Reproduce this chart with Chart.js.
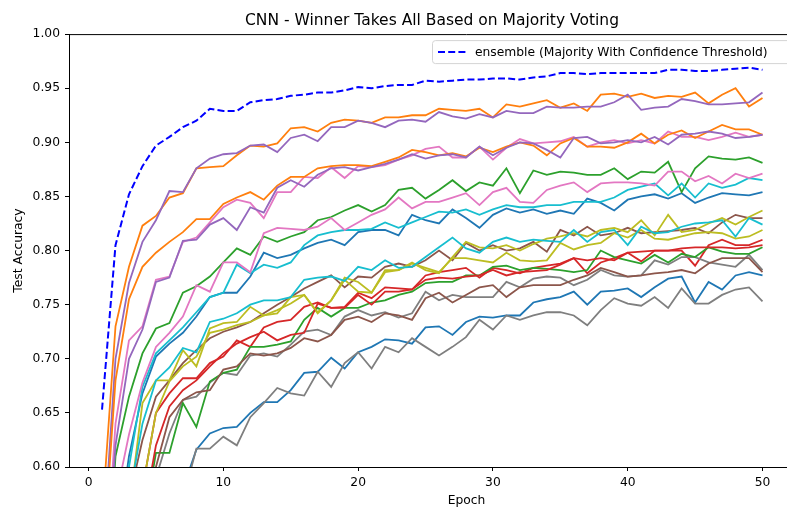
<!DOCTYPE html>
<html>
<head>
<meta charset="utf-8">
<script src="https://cdn.jsdelivr.net/npm/chart.js@4/dist/chart.umd.min.js"></script>
<style>
  html, body { margin: 0; padding: 0; background: #fff; overflow: hidden; }
  #wrap { width: 787px; height: 509px; overflow: hidden; }
</style>
</head>
<body>
<div id="wrap"><canvas id="accChart" width="864" height="509"></canvas></div>
<script>
// epochs and tick labels
const epochs = [1,2,3,4,5,6,7,8,9,10,11,12,13,14,15,16,17,18,19,20,21,22,23,24,25,
  26,27,28,29,30,31,32,33,34,35,36,37,38,39,40,41,42,43,44,45,46,47,48,49,50];
const xTicks = [0, 10, 20, 30, 40, 50];
const yTicks = [0.60, 0.65, 0.70, 0.75, 0.80, 0.85, 0.90, 0.95, 1.00];

const ensembleLabel = 'ensemble (Majority With Confidence Threshold)';
const ensemble = [0.653,0.805,0.852,0.878,0.897,0.905,0.914,0.920,0.931,0.929,
  0.929,0.937,0.939,0.940,0.943,0.944,0.946,0.946,0.948,0.951,
  0.950,0.952,0.953,0.953,0.957,0.956,0.957,0.958,0.958,0.959,
  0.959,0.958,0.960,0.961,0.964,0.964,0.963,0.964,0.964,0.964,
  0.964,0.964,0.967,0.967,0.966,0.966,0.967,0.968,0.969,0.967];

// individual CNN runs
const model1 = [0.36,0.52,0.61,0.668,0.702,0.714,0.724,0.739,0.757,0.761,
  0.761,0.776,0.798,0.793,0.796,0.802,0.807,0.810,0.805,0.817,
  0.819,0.819,0.814,0.833,0.828,0.825,0.838,0.830,0.821,0.833,
  0.839,0.835,0.838,0.834,0.837,0.834,0.848,0.844,0.837,0.847,
  0.850,0.852,0.848,0.853,0.844,0.849,0.853,0.852,0.851,0.854];
const model2 = [0.553,0.73,0.785,0.823,0.832,0.849,0.853,0.876,0.877,0.878,
  0.888,0.897,0.896,0.899,0.913,0.914,0.910,0.918,0.921,0.920,
  0.918,0.923,0.923,0.925,0.925,0.931,0.930,0.929,0.931,0.923,
  0.935,0.933,0.936,0.939,0.932,0.936,0.929,0.944,0.945,0.942,
  0.945,0.941,0.943,0.942,0.946,0.936,0.944,0.950,0.933,0.941];
const model3 = [0.42,0.61,0.665,0.705,0.728,0.733,0.761,0.767,0.776,0.789,
  0.802,0.796,0.813,0.808,0.813,0.817,0.828,0.831,0.837,0.842,
  0.836,0.842,0.856,0.858,0.848,0.856,0.865,0.855,0.863,0.860,
  0.876,0.853,0.874,0.870,0.873,0.872,0.870,0.870,0.876,0.866,
  0.873,0.872,0.882,0.854,0.876,0.887,0.885,0.884,0.886,0.881];
const model4 = [0.30,0.42,0.51,0.58,0.650,0.668,0.682,0.682,0.696,0.702,
  0.717,0.711,0.729,0.734,0.736,0.748,0.752,0.747,0.748,0.761,
  0.756,0.766,0.765,0.764,0.777,0.780,0.782,0.784,0.775,0.784,
  0.782,0.779,0.784,0.786,0.788,0.793,0.779,0.789,0.793,0.798,
  0.790,0.800,0.800,0.800,0.786,0.805,0.810,0.805,0.805,0.810];
const model5 = [0.51,0.70,0.77,0.808,0.828,0.855,0.854,0.876,0.885,0.889,
  0.890,0.897,0.898,0.891,0.904,0.907,0.901,0.914,0.914,0.920,
  0.918,0.914,0.920,0.921,0.919,0.928,0.924,0.922,0.926,0.923,
  0.929,0.927,0.927,0.933,0.932,0.932,0.933,0.933,0.937,0.944,
  0.930,0.932,0.933,0.940,0.938,0.935,0.935,0.936,0.937,0.946];
const model6 = [0.35,0.48,0.57,0.625,0.665,0.680,0.696,0.708,0.719,0.725,
  0.729,0.734,0.742,0.750,0.757,0.765,0.771,0.777,0.766,0.776,
  0.775,0.785,0.788,0.785,0.791,0.800,0.791,0.807,0.800,0.805,
  0.800,0.802,0.808,0.799,0.819,0.814,0.822,0.814,0.816,0.821,
  0.816,0.817,0.818,0.819,0.821,0.816,0.826,0.833,0.830,0.830];
const model7 = [0.45,0.64,0.717,0.73,0.773,0.776,0.808,0.812,0.826,0.840,
  0.847,0.844,0.830,0.854,0.854,0.868,0.867,0.877,0.867,0.878,
  0.877,0.879,0.884,0.888,0.894,0.896,0.886,0.886,0.896,0.884,
  0.895,0.903,0.899,0.900,0.901,0.905,0.896,0.900,0.902,0.899,
  0.902,0.899,0.910,0.905,0.905,0.902,0.905,0.909,0.905,0.907];
const model8 = [0.22,0.34,0.43,0.52,0.59,0.631,0.662,0.665,0.678,0.687,
  0.685,0.703,0.705,0.702,0.713,0.725,0.727,0.722,0.739,0.745,
  0.740,0.743,0.738,0.742,0.762,0.754,0.759,0.757,0.757,0.757,
  0.771,0.766,0.774,0.776,0.775,0.768,0.773,0.782,0.777,0.776,
  0.777,0.791,0.787,0.794,0.794,0.789,0.787,0.785,0.796,0.782];
const model9 = [0.32,0.45,0.56,0.659,0.680,0.680,0.708,0.693,0.728,0.733,
  0.734,0.748,0.740,0.745,0.751,0.759,0.742,0.754,0.775,0.771,
  0.761,0.782,0.782,0.789,0.782,0.779,0.794,0.808,0.803,0.802,
  0.805,0.800,0.806,0.811,0.813,0.816,0.813,0.819,0.821,0.817,
  0.828,0.814,0.833,0.817,0.819,0.825,0.830,0.824,0.831,0.837];
const model10 = [0.35,0.50,0.60,0.674,0.705,0.717,0.729,0.743,0.757,0.761,
  0.787,0.779,0.787,0.784,0.789,0.805,0.814,0.817,0.819,0.819,
  0.820,0.826,0.821,0.826,0.831,0.836,0.835,0.838,0.833,0.838,
  0.842,0.840,0.840,0.842,0.842,0.845,0.845,0.845,0.849,0.856,
  0.859,0.862,0.851,0.862,0.849,0.862,0.858,0.861,0.867,0.865];
const model11 = [0.20,0.30,0.38,0.45,0.50,0.54,0.58,0.616,0.631,0.636,
  0.637,0.650,0.660,0.660,0.671,0.687,0.688,0.701,0.691,0.706,
  0.711,0.718,0.717,0.714,0.729,0.730,0.722,0.734,0.739,0.738,
  0.740,0.740,0.752,0.755,0.757,0.762,0.750,0.762,0.763,0.765,
  0.757,0.766,0.774,0.776,0.752,0.771,0.764,0.777,0.780,0.777];
const model12 = [0.50,0.68,0.755,0.785,0.798,0.808,0.817,0.829,0.829,0.843,
  0.849,0.854,0.847,0.860,0.868,0.868,0.876,0.878,0.879,0.879,
  0.878,0.882,0.886,0.893,0.891,0.888,0.890,0.887,0.895,0.891,
  0.896,0.900,0.897,0.888,0.899,0.904,0.896,0.896,0.895,0.900,
  0.908,0.899,0.907,0.911,0.904,0.910,0.916,0.912,0.912,0.907];
const model13 = [0.25,0.37,0.46,0.54,0.613,0.613,0.659,0.637,0.679,0.687,
  0.690,0.711,0.711,0.713,0.716,0.736,0.747,0.739,0.747,0.747,
  0.752,0.754,0.759,0.762,0.770,0.771,0.771,0.777,0.777,0.785,
  0.786,0.782,0.784,0.783,0.782,0.780,0.782,0.800,0.794,0.791,
  0.788,0.796,0.789,0.797,0.794,0.803,0.799,0.797,0.797,0.803];
const model14 = [0.28,0.40,0.48,0.55,0.62,0.656,0.671,0.680,0.693,0.705,
  0.714,0.720,0.725,0.717,0.722,0.724,0.751,0.747,0.747,0.759,
  0.750,0.762,0.762,0.764,0.773,0.775,0.774,0.776,0.777,0.782,
  0.777,0.780,0.781,0.782,0.787,0.793,0.791,0.793,0.791,0.798,
  0.799,0.800,0.800,0.802,0.803,0.803,0.803,0.802,0.803,0.805];
const model15 = [0.44,0.62,0.70,0.727,0.771,0.775,0.809,0.810,0.824,0.830,
  0.819,0.840,0.835,0.858,0.865,0.859,0.870,0.876,0.877,0.874,
  0.877,0.880,0.884,0.889,0.885,0.888,0.889,0.886,0.896,0.888,
  0.895,0.900,0.899,0.893,0.886,0.904,0.905,0.899,0.900,0.902,
  0.900,0.905,0.898,0.907,0.908,0.910,0.908,0.904,0.905,0.907];
const model16 = [0.24,0.36,0.45,0.54,0.60,0.646,0.662,0.669,0.671,0.690,
  0.693,0.705,0.703,0.705,0.710,0.719,0.716,0.722,0.736,0.739,
  0.734,0.742,0.740,0.736,0.756,0.761,0.752,0.759,0.766,0.768,
  0.757,0.766,0.768,0.768,0.768,0.773,0.777,0.784,0.780,0.776,
  0.777,0.779,0.780,0.782,0.779,0.788,0.793,0.793,0.793,0.780];
const model17 = [0.40,0.57,0.63,0.678,0.711,0.724,0.739,0.768,0.762,0.789,
  0.789,0.780,0.816,0.821,0.820,0.819,0.822,0.830,0.819,0.826,
  0.833,0.838,0.849,0.839,0.845,0.845,0.849,0.853,0.842,0.854,
  0.858,0.845,0.844,0.856,0.860,0.863,0.854,0.862,0.863,0.863,
  0.862,0.860,0.873,0.873,0.864,0.869,0.862,0.871,0.867,0.871];
const model18 = [0.18,0.28,0.36,0.43,0.49,0.53,0.57,0.617,0.617,0.628,
  0.620,0.646,0.659,0.673,0.668,0.666,0.688,0.674,0.696,0.706,
  0.691,0.711,0.706,0.719,0.711,0.703,0.711,0.720,0.736,0.727,
  0.740,0.736,0.740,0.743,0.743,0.740,0.731,0.745,0.756,0.751,
  0.749,0.757,0.747,0.765,0.751,0.751,0.759,0.764,0.766,0.753];
const model19 = [0.28,0.40,0.50,0.58,0.650,0.679,0.693,0.702,0.724,0.727,
  0.731,0.734,0.740,0.742,0.757,0.759,0.743,0.754,0.773,0.762,
  0.761,0.780,0.782,0.788,0.784,0.780,0.793,0.793,0.791,0.789,
  0.798,0.791,0.790,0.791,0.807,0.801,0.805,0.807,0.816,0.812,
  0.819,0.811,0.810,0.813,0.816,0.817,0.816,0.811,0.813,0.819];
const model20 = [0.30,0.45,0.57,0.64,0.680,0.692,0.710,0.706,0.734,0.737,
  0.742,0.750,0.754,0.754,0.757,0.773,0.775,0.776,0.772,0.785,
  0.782,0.791,0.784,0.785,0.794,0.803,0.812,0.802,0.798,0.808,
  0.812,0.808,0.810,0.809,0.808,0.819,0.808,0.817,0.819,0.805,
  0.822,0.816,0.817,0.822,0.825,0.826,0.828,0.813,0.830,0.824];

const runs = [model1, model2, model3, model4, model5, model6, model7, model8, model9, model10,
  model11, model12, model13, model14, model15, model16, model17, model18, model19, model20];

// matplotlib tab10 cycle
const palette = ['#1f77b4', '#ff7f0e', '#2ca02c', '#d62728', '#9467bd',
  '#8c564b', '#e377c2', '#7f7f7f', '#bcbd22', '#17becf'];

const FONT = '"DejaVu Sans", "Liberation Sans", sans-serif';

const runSets = runs.map((vals, i) => ({
  label: 'run ' + (i + 1),
  data: vals.map((v, j) => ({ x: epochs[j], y: v })),
  borderColor: palette[i % palette.length],
  borderWidth: 1.8,
  pointRadius: 0,
  fill: false,
  tension: 0
}));

// Chart.js draws dataset 0 on top, matplotlib draws the last one on top
const datasets = [{
  label: ensembleLabel,
  data: ensemble.map((v, j) => ({ x: epochs[j], y: v })),
  borderColor: '#0000ff',
  borderWidth: 2,
  borderDash: [7, 3.2],
  pointRadius: 0,
  fill: false,
  tension: 0
}].concat(runSets.reverse());

// top spine, and the legend box inside the axes (upper right)
const framePlugin = {
  id: 'frame',
  afterDraw(chart) {
    const { ctx, chartArea: a } = chart;
    ctx.save();
    ctx.strokeStyle = '#000';
    ctx.lineWidth = 1;
    ctx.beginPath();
    ctx.moveTo(a.left, a.top + 0.5);
    ctx.lineTo(a.right, a.top + 0.5);
    ctx.stroke();

    const ds = chart.data.datasets[0];
    const bx = 432.5, by = a.top + 6.5, bw = 400, bh = 23;
    ctx.fillStyle = 'rgba(255,255,255,0.8)';
    ctx.strokeStyle = '#d4d4d4';
    ctx.beginPath();
    ctx.roundRect(bx, by, bw, bh, 3);
    ctx.fill();
    ctx.stroke();
    ctx.setLineDash(ds.borderDash);
    ctx.strokeStyle = ds.borderColor;
    ctx.lineWidth = ds.borderWidth;
    ctx.beginPath();
    ctx.moveTo(bx + 5.5, by + bh / 2);
    ctx.lineTo(bx + 33, by + bh / 2);
    ctx.stroke();
    ctx.setLineDash([]);
    ctx.fillStyle = '#000';
    ctx.font = '12.3px ' + FONT;
    ctx.textBaseline = 'middle';
    ctx.fillText(ds.label, bx + 42.5, by + bh / 2 + 0.5);
    ctx.restore();
  }
};

new Chart(document.getElementById('accChart').getContext('2d'), {
  type: 'line',
  data: { datasets: datasets },
  plugins: [framePlugin],
  options: {
    responsive: false,
    animation: false,
    layout: { padding: 0 },
    plugins: {
      legend: { display: false },
      tooltip: { enabled: false },
      title: {
        display: true,
        text: 'CNN - Winner Takes All Based on Majority Voting',
        color: '#000',
        font: { family: FONT, size: 15.5, weight: 'normal' },
        padding: { top: 11.5, bottom: 4 }
      }
    },
    scales: {
      x: {
        type: 'linear',
        min: -1.45,
        max: 57.53,
        afterBuildTicks: s => { s.ticks = xTicks.map(v => ({ value: v })); },
        afterFit: s => { s.height = 42; },
        grid: { drawOnChartArea: false, drawTicks: true, tickLength: 4, color: '#000' },
        border: { display: true, color: '#000', width: 1 },
        ticks: { color: '#000', padding: 4.5, font: { family: FONT, size: 12.3 } },
        title: { display: true, text: 'Epoch', color: '#000', padding: { top: 0, bottom: 1 },
          font: { family: FONT, size: 12.3 } }
      },
      y: {
        min: 0.60,
        max: 1.00,
        afterBuildTicks: s => { s.ticks = yTicks.map(v => ({ value: v })); },
        afterFit: s => { s.width = 69; },
        grid: { drawOnChartArea: false, drawTicks: true, tickLength: 4, color: '#000' },
        border: { display: true, color: '#000', width: 1 },
        ticks: { color: '#000', padding: 5, font: { family: FONT, size: 12.3 },
          callback: v => v.toFixed(2) },
        title: { display: true, text: 'Test Accuracy', color: '#000', padding: { top: 11, bottom: 0 },
          font: { family: FONT, size: 12.3 } }
      }
    }
  }
});
</script>
</body>
</html>
